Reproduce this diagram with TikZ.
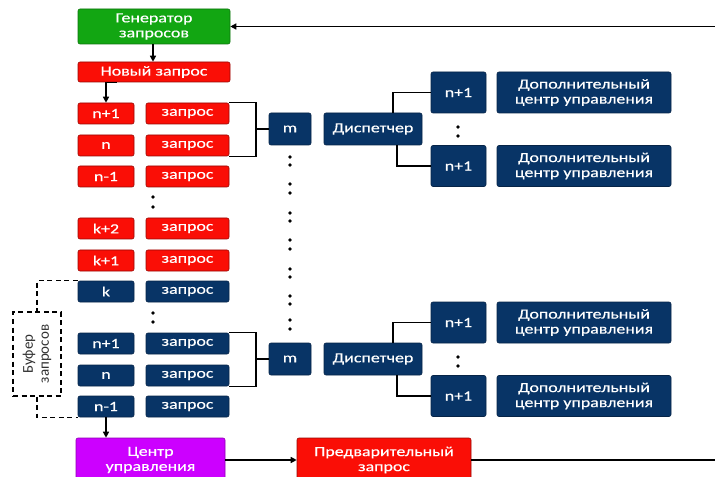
\documentclass[tikz,border=0pt]{standalone}
\usepackage{fontspec}
\setmainfont{Carlito}[FakeStretch=1.28,FakeBold=0.4]
\newfontfamily\buffont{Carlito}
\usetikzlibrary{arrows.meta}
\definecolor{cgreen}{RGB}{18,166,18}
\definecolor{cred}{RGB}{250,14,6}
\definecolor{cnavy}{RGB}{8,52,102}
\definecolor{cpurple}{RGB}{204,0,255}
\definecolor{cgray}{RGB}{50,50,50}
\tikzset{
  base/.style={rounded corners=2bp, text=white, align=center, inner sep=0pt,
    font=\fontsize{14bp}{15bp}\selectfont, line width=0.6bp},
  gbox/.style={base, fill=cgreen, draw=cgreen!70!black},
  rbox/.style={base, fill=cred, draw=cred!60!black},
  nbox/.style={base, fill=cnavy, draw=cnavy!70!black},
  pbox/.style={base, fill=cpurple, draw=cpurple!70!black},
  lbox/.style={minimum width=56bp, minimum height=21bp},
  qbox/.style={minimum width=83bp, minimum height=21bp},
  conn/.style={line width=1.4bp, draw=black},
  arr/.style={conn, -{Triangle[length=6bp,width=6bp]}},
  dsh/.style={line width=1.4bp, draw=black, dash pattern=on 5bp off 3.5bp},
}
\begin{document}
\begin{tikzpicture}[x=1bp,y=-1bp]
\useasboundingbox (0,0) rectangle (715,477);
% top
\node[gbox, minimum width=152bp, minimum height=35bp] (gen) at (154,26.5) {Генератор\\запросов};
\node[rbox, minimum width=152bp, minimum height=20bp] (new) at (154,72) {Новый запрос};
% rows
\node[rbox,lbox] (r1l) at (106,113.5) {n+1};
\node[rbox,qbox] (r1r) at (187.5,113.5) {запрос};
\node[rbox,lbox] (r2l) at (106,145.5) {n};
\node[rbox,qbox] (r2r) at (187.5,145.5) {запрос};
\node[rbox,lbox] (r3l) at (106,176.5) {n-1};
\node[rbox,qbox] (r3r) at (187.5,176.5) {запрос};
\node[rbox,lbox] (r4l) at (106,228.5) {k+2};
\node[rbox,qbox] (r4r) at (187.5,228.5) {запрос};
\node[rbox,lbox] (r5l) at (106,260.5) {k+1};
\node[rbox,qbox] (r5r) at (187.5,260.5) {запрос};
\node[nbox,lbox] (r6l) at (106,291.5) {k};
\node[nbox,qbox] (r6r) at (187.5,291.5) {запрос};
\node[nbox,lbox] (r7l) at (106,343.5) {n+1};
\node[nbox,qbox] (r7r) at (187.5,343.5) {запрос};
\node[nbox,lbox] (r8l) at (106,375.5) {n};
\node[nbox,qbox] (r8r) at (187.5,375.5) {запрос};
\node[nbox,lbox] (r9l) at (106,406.5) {n-1};
\node[nbox,qbox] (r9r) at (187.5,406.5) {запрос};
% m and dispatchers
\node[nbox, minimum width=42bp, minimum height=32bp] (m1) at (290,129) {m};
\node[nbox, minimum width=98bp, minimum height=32bp] (d1) at (373,129) {Диспетчер};
\node[nbox, minimum width=55bp, minimum height=41bp] (u1) at (458.5,92.5) {n+1};
\node[nbox, minimum width=174bp, minimum height=41bp] (du1) at (584,92.5) {Дополнительный\\центр управления};
\node[nbox, minimum width=55bp, minimum height=41bp] (l1) at (458.5,166) {n+1};
\node[nbox, minimum width=174bp, minimum height=41bp] (dl1) at (584,166) {Дополнительный\\центр управления};
\node[nbox, minimum width=42bp, minimum height=32bp] (m2) at (290,359) {m};
\node[nbox, minimum width=98bp, minimum height=32bp] (d2) at (373,359) {Диспетчер};
\node[nbox, minimum width=55bp, minimum height=41bp] (u2) at (458.5,322.5) {n+1};
\node[nbox, minimum width=174bp, minimum height=41bp] (du2) at (584,322.5) {Дополнительный\\центр управления};
\node[nbox, minimum width=55bp, minimum height=41bp] (l2) at (458.5,396) {n+1};
\node[nbox, minimum width=174bp, minimum height=41bp] (dl2) at (584,396) {Дополнительный\\центр управления};
% bottom
\node[pbox, minimum width=149bp, minimum height=44bp] (cu) at (150.5,460) {Центр\\управления};
\node[rbox, minimum width=174bp, minimum height=44bp] (pre) at (384,460) {Предварительный\\запрос};
% buffer
\node[dsh, minimum width=48bp, minimum height=84bp, inner sep=0pt] (buf) at (37,354) {};
\node[rotate=90, align=center, text=cgray, font=\buffont\fontsize{15bp}{16bp}\selectfont] (buft) at (buf.center) {Буфер\\запросов};
% free ends
\coordinate (topR) at (715,26.5);
\coordinate (botR) at (715,460);
\coordinate (br1) at (256,129);
\coordinate (br2) at (256,359);
% connectors
\draw[arr] (topR) -- (gen.east);
\draw[arr] (gen.south -| 153,0) -- (new.north -| 153,0);
\draw[arr] ([xshift=39bp]new.south west) -| (r1l.north);
\draw[conn] (r1r.north east) -| (br1) |- (r2r.south east);
\draw[conn] (br1) -- (m1.west);
\draw[conn] (r7r.north east) -| (br2) |- (r8r.south east);
\draw[conn] (br2) -- (m2.west);
\draw[conn] ([xshift=20bp]d1.north) |- (u1.west);
\draw[conn] ([xshift=24bp]d1.south) |- (l1.west);
\draw[conn] ([xshift=20bp]d2.north) |- (u2.west);
\draw[conn] ([xshift=24bp]d2.south) |- (l2.west);
\draw[arr] (r9l.south) -- (r9l.south |- cu.north);
\draw[arr] (cu.east) -- (pre.west);
\draw[conn] (pre.east) -- (botR);
\draw[dsh] (r6l.north west) -| (buf.north);
\draw[dsh] (buf.south) |- (r9l.south west);
% dots
\foreach \y in {197,207,313,322} \fill (153,\y) circle (1.9bp);
\foreach \y in {157,165,184,193,213,221,240,249,269,277,296,304,320,329} \fill (290,\y) circle (1.9bp);
\foreach \y in {127,136,357,366} \fill (458,\y) circle (1.9bp);
\end{tikzpicture}
\end{document}
